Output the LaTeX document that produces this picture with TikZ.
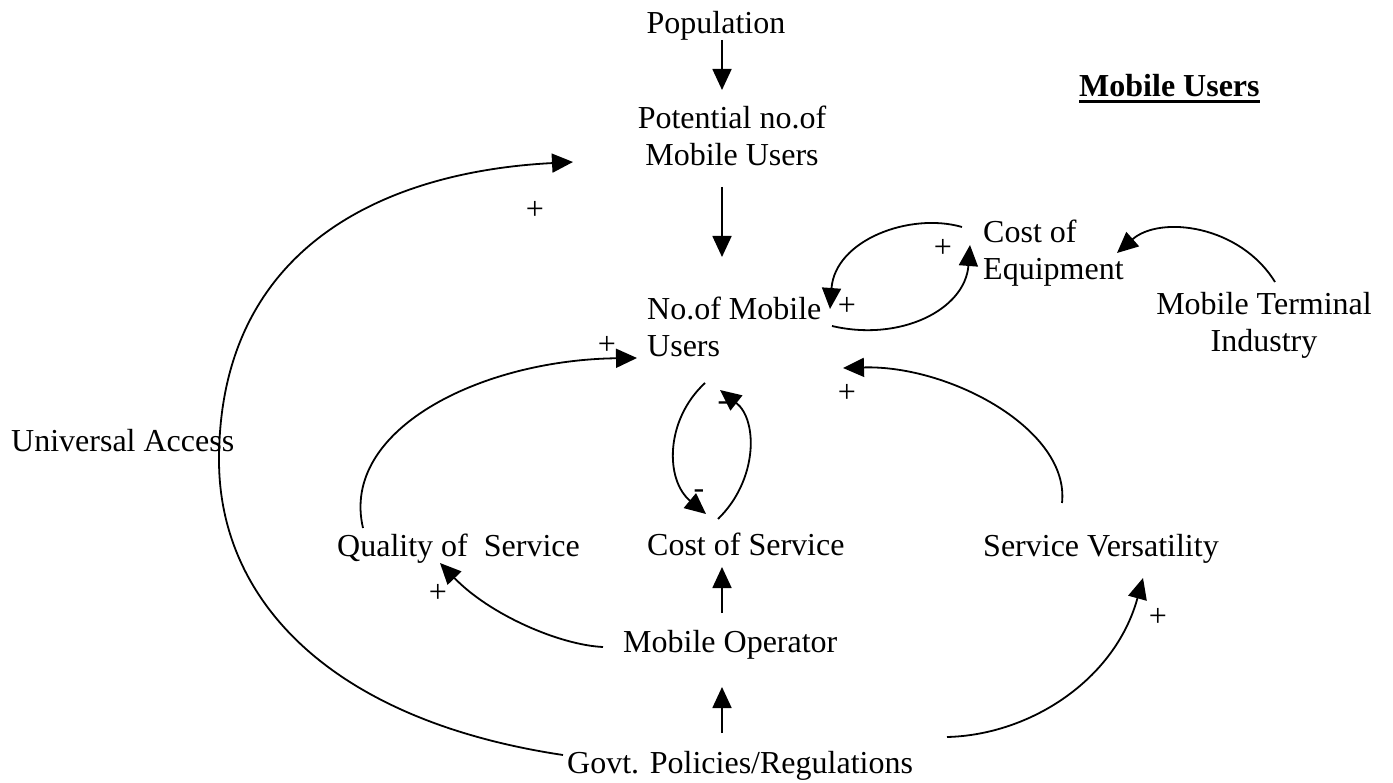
\documentclass[tikz,border=0pt]{standalone}
\usepackage{fontspec}
\setmainfont{Liberation Serif}
\usetikzlibrary{arrows.meta}
\begin{document}
\begin{tikzpicture}[x=1pt,y=-1pt,
  font=\fontsize{32}{37}\selectfont,
  lbl/.style={inner sep=0pt,anchor=base west},
  ctr/.style={inner sep=0pt,anchor=base},
  sign/.style={inner sep=0pt},
  link/.style={line width=1.8pt,-{Triangle[length=21pt,width=19pt]}}]
\useasboundingbox (0,0) rectangle (1393,783);
\fill[white] (0,0) rectangle (1393,783);

% variables (for two-line labels the anchor is the baseline of the last line)
\node[ctr] (pop) at (716,34) {Population};
\node[ctr,align=center] (pot) at (732,166) {Potential no.of\\Mobile Users};
\node[lbl,font=\fontsize{32}{37}\selectfont\bfseries] (title) at (1079,97) {Mobile Users};
\node[lbl,align=left] (num) at (647,357) {No.of Mobile\\Users};
\node[lbl,align=left] (coe) at (983,280) {Cost of\\Equipment};
\node[ctr,align=center] (mti) at (1264,352) {Mobile Terminal\\Industry};
\node[lbl] (ua) at (11,452) {Universal Access};
\node[lbl] (qos) at (337,556) {Quality of\ \ Service};
\node[lbl] (cos) at (647,555) {Cost of Service};
\node[lbl] (sv) at (983,556) {Service Versatility};
\node[lbl] (mo) at (623,652) {Mobile Operator};
\node[lbl] (gov) at (567,773) {Govt. Policies/Regulations};

% the cost-of-service label is cut off just below its baseline
\fill[white] ([shift={(-2,1)}]cos.base west) rectangle ([shift={(2,8)}]cos.base east);

% title underline
\draw[line width=3pt] ([shift={(0,4.5)}]title.base west) -- ([shift={(0,4.5)}]title.base east);

% straight links
\draw[link] ([shift={(6,6)}]pop.base) -- ([shift={(-10,-76)}]pot.base);
\draw[link] ([shift={(-10,21)}]pot.base) -- ([shift={(75,-100)}]num.base west);
\draw[link] ([shift={(99,-39)}]mo.base west) -- ([shift={(75,12)}]cos.base west);
\draw[link] ([shift={(155,-40)}]gov.base west) -- ([shift={(99,35)}]mo.base west);

% curved links
\draw[link] ([shift={(-4,-18)}]gov.base west) .. controls (330,720) and (219,600) .. (219,460)
  .. controls (219,250) and (380,172) .. ([shift={(-159,-4)}]pot.base);
\draw[link] ([shift={(-21,-53)}]coe.base west) .. controls (910,212) and (835,240) .. ([shift={(183,-48)}]num.base west);
\draw[link] ([shift={(185,-31)}]num.base west) .. controls (900,342) and (965,310) .. ([shift={(-13,-35)}]coe.base west);
\draw[link] ([shift={(11,-70)}]mti.base) .. controls (1240,225) and (1160,215) .. ([shift={(134,-27)}]coe.base west);
\draw[link] ([shift={(58,26)}]num.base west) .. controls (665,420) and (665,480) .. ([shift={(59,-41)}]cos.base west);
\draw[link] ([shift={(71,-36)}]cos.base west) .. controls (758,480) and (758,420) .. ([shift={(73,33)}]num.base west);
\draw[link] ([shift={(79,-53)}]sv.base west) .. controls (1070,430) and (950,365) .. ([shift={(196,11)}]num.base west);
\draw[link] ([shift={(26,-28)}]qos.base west) .. controls (340,430) and (480,360) .. ([shift={(-10,1)}]num.base west);
\draw[link] ([shift={(-20,-5)}]mo.base west) .. controls (560,645) and (490,615) .. ([shift={(103,7)}]qos.base west);
\draw[link] ([shift={(380,-36)}]gov.base west) .. controls (1030,735) and (1115,680) .. ([shift={(160,22)}]sv.base west);

% polarity signs
\node[sign] (p1) at (535,210) {+};
\node[sign] (p2) at (943,248) {+};
\node[sign] (p3) at (847,306) {+};
\node[sign] (p4) at (607,345) {+};
\node[sign] (p5) at (847,393) {+};
\node[sign] (p6) at (438,593) {+};
\node[sign] (p7) at (1158,617) {+};
\node[ctr] (m1) at (699,499) {-};
\node[ctr] (m2) at (723,411) {-};
\end{tikzpicture}
\end{document}
